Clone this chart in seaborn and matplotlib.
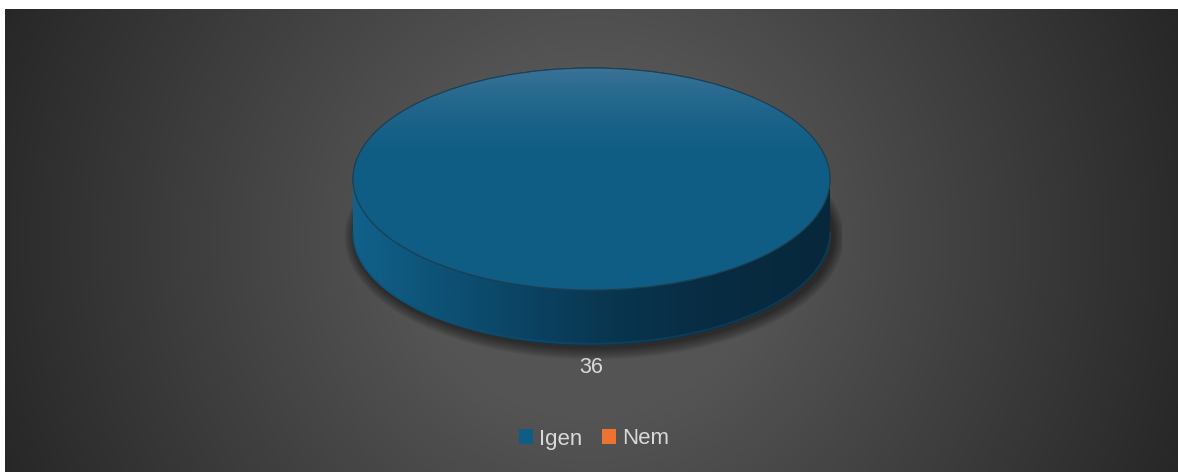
import numpy as np
import matplotlib
matplotlib.use("Agg")
import matplotlib.pyplot as plt
import seaborn as sns
from matplotlib.path import Path
from matplotlib.patches import PathPatch, Ellipse
from matplotlib.colors import LinearSegmentedColormap, to_rgb

# ---- data ----
categories = ["Igen", "Nem"]
values = [36, 0]
slice_colors = ["#0f5c84", "#ed7331"]
value_labels = ["36", ""]

sns.set_style("white")
plt.rcParams["font.family"] = ["Liberation Sans", "DejaVu Sans"]

W, H = 1178, 472
fig = plt.figure(figsize=(W / 100, H / 100), dpi=100, facecolor="white")

# ---- background (radial gradient) ----
bx0, by0 = 5, 9
bg = fig.add_axes([bx0 / W, 0, 1 - bx0 / W, 1 - by0 / H])
bg.set_axis_off()
xs = np.arange(bx0, W) + 0.5
ys = np.arange(by0, H) + 0.5
X, Y = np.meshgrid(xs, ys)
r = np.hypot(X - 590, Y - 240)
v = np.clip(84 - 0.1 * np.clip(r - 180, 0, None), 0, 255) / 255.0
bg.imshow(np.dstack([v, v, v]), aspect="auto", extent=(0, 1, 0, 1), origin="upper",
          interpolation="bilinear")
bg.set_xlim(0, 1)
bg.set_ylim(0, 1)

# ---- pie axes: unit circle maps to the top ellipse ----
cx, cy, a, b = 591.5, 179.0, 238.5, 111.0
D = 55.0 / b  # thickness in y-units
xl, xr, yb, yt = -1.05, 1.05, -2.0, 1.05
pax = fig.add_axes([(cx + xl * a) / W, 1 - (cy - yb * b) / H,
                    (xr - xl) * a / W, (yt - yb) * b / H])

wedges, texts = pax.pie(values, colors=slice_colors, startangle=90, counterclock=False,
                        labels=value_labels, labeldistance=1.70, frame=True,
                        textprops=dict(ha="center", va="center", color="#d9d9d9", fontsize=15.5),
                        wedgeprops=dict(edgecolor="#1d3f52", linewidth=0.8))
pax.set_aspect("auto")
pax.set_xlim(xl, xr)
pax.set_ylim(yb, yt)
pax.set_axis_off()
pax.patch.set_alpha(0)
wedges[1].set_linewidth(0)
for w in wedges:
    w.set_zorder(5)

# soft shadow under the side
for k in range(12, 0, -1):
    e = Ellipse((0.012, -D - 0.025), 2 * (1 + 0.004 * k), 2 * (1 + 0.009 * k),
                facecolor="black", edgecolor="none", alpha=0.045, zorder=1)
    pax.add_patch(e)

# side of the 3D pie
th1 = np.linspace(np.pi, 2 * np.pi, 200)
th2 = np.linspace(2 * np.pi, np.pi, 200)
verts = np.concatenate([np.c_[np.cos(th1), np.sin(th1)],
                        np.c_[np.cos(th2), np.sin(th2) - D],
                        [[np.cos(th1[0]), np.sin(th1[0])]]])
codes = [Path.MOVETO] + [Path.LINETO] * (len(verts) - 2) + [Path.CLOSEPOLY]
side = PathPatch(Path(verts, codes), facecolor="#0a3a57", edgecolor="none", zorder=2)
pax.add_patch(side)
side_cmap = LinearSegmentedColormap.from_list("side", [
    (0.0, "#11618b"), (0.15, "#0e5479"), (0.35, "#0b4464"),
    (0.55, "#09354f"), (0.75, "#082c42"), (1.0, "#07283b")])
gx = np.linspace(0, 1, 400)[None, :].repeat(10, axis=0)
simg = pax.imshow(gx, cmap=side_cmap, extent=(-1, 1, -1 - D, 0), aspect="auto",
                  zorder=3, interpolation="bilinear")
simg.set_clip_path(side)
# subtle lighter rim along the bottom edge
pax.plot(np.cos(th1), np.sin(th1) - D + 0.012, color="#0d5074", lw=1.4, alpha=0.45,
         zorder=4, solid_capstyle="round")

# top face gradient (lighter toward the back)
base = np.array(to_rgb("#0f5d84"))
topc = np.array(to_rgb("#3a7397"))
yy = np.linspace(1, -1, 300)
t = np.clip((yy - 0.1) / 0.9, 0, 1) ** 1.8
col = base[None, :] + (topc - base)[None, :] * t[:, None]
timg = np.repeat(col[:, None, :], 10, axis=1)
im = pax.imshow(timg, extent=(-1, 1, -1, 1), aspect="auto", zorder=6,
                interpolation="bilinear", origin="upper")
im.set_clip_path(wedges[0])
outline = Ellipse((0, 0), 2, 2, facecolor="none", edgecolor="#1d3f52", lw=0.8, zorder=7)
pax.add_patch(outline)
for tx in texts:
    tx.set_zorder(8)

# ---- legend ----
leg = fig.legend(wedges, categories, loc="center", bbox_to_anchor=(594 / W, 1 - 439 / H),
                 ncol=2, frameon=False, fontsize=16, labelcolor="#d9d9d9",
                 handlelength=0.65, handleheight=0.65, handletextpad=0.28,
                 columnspacing=0.85)
for h in leg.legend_handles:
    h.set_linewidth(0)

fig.savefig("out.png", dpi=100, facecolor="white")
